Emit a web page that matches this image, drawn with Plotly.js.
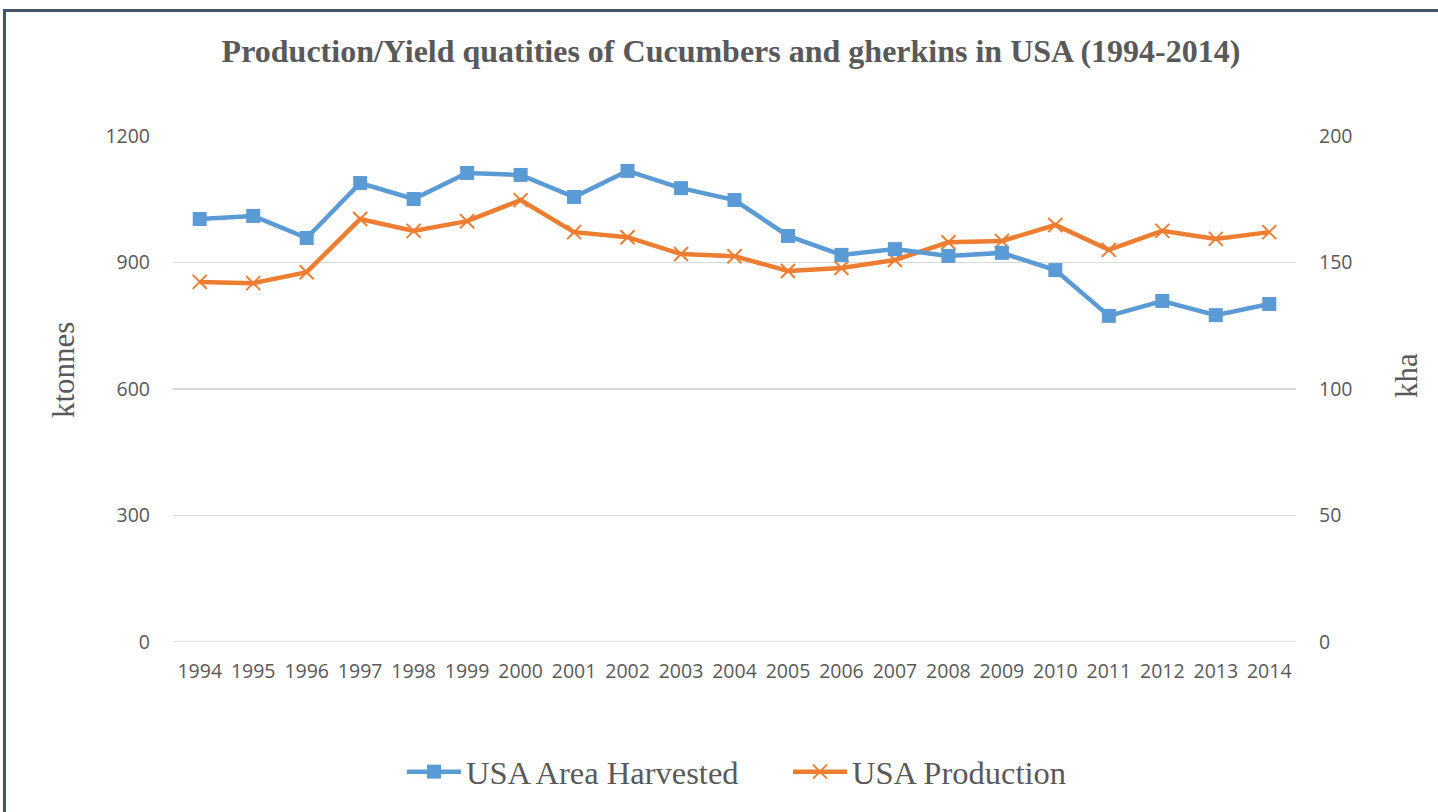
<!DOCTYPE html>
<html><head><meta charset="utf-8">
<script src="https://cdn.plot.ly/plotly-3.0.1.min.js"></script>
<style>
html,body{margin:0;padding:0;background:#fff;}
#frame{position:absolute;left:3px;top:9px;width:1435px;height:803px;border-top:3px solid #44546a;border-left:3px solid #44546a;box-sizing:border-box;pointer-events:none;z-index:10;}
#chart{position:absolute;left:0;top:0;width:1438px;height:812px;}
</style>
</head><body>
<div id="chart"></div>
<div id="frame"></div>
<script>
const years = ["1994","1995","1996","1997","1998","1999","2000","2001","2002","2003","2004","2005","2006","2007","2008","2009","2010","2011","2012","2013","2014"];
const areaHarvested = [167.2,168.4,159.7,181.4,175.1,185.4,184.6,175.9,186.2,179.4,174.7,160.5,153.0,155.3,152.6,153.8,147.0,128.9,134.8,129.2,133.6];
const production = [854,851,877,1003,975,998,1048,972,960,920,915,880,887,906,948,951,989,930,975,956,972];
const leftTicks = [0,300,600,900,1200];
const rightTicks = [0,50,100,150,200];

const tickFont = {family:"Open Sans, Calibri, sans-serif", size:19.5, color:"#595959"};
const serif = "Liberation Serif, Times New Roman, serif";
const W = 1438, H = 812, ML = 173, MR = 142, MT = 136, MB = 170;
const pw = W - ML - MR, ph = H - MT - MB;
const px = v => (v - ML) / pw;
const py = v => (H - MB - v) / ph;

const traces = [
  {x:years, y:areaHarvested, name:"USA Area Harvested", yaxis:"y2", type:"scatter", mode:"lines+markers",
   line:{color:"#5b9bd5", width:4.5}, marker:{symbol:"square", size:14, color:"#5b9bd5"}},
  {x:years, y:production, name:"USA Production", yaxis:"y", type:"scatter", mode:"lines+markers",
   line:{color:"#ed7d31", width:4.5}, marker:{symbol:"x-thin", size:14, line:{color:"#ed7d31", width:2}, color:"#ed7d31"}}
];

const layout = {
  width:W, height:H,
  margin:{l:ML, r:MR, t:MT, b:MB, autoexpand:false},
  paper_bgcolor:"#fff", plot_bgcolor:"#fff",
  title:{text:"<b>Production/Yield quatities of Cucumbers and gherkins in USA (1994-2014)</b>",
         font:{family:serif, size:32, color:"#595959"},
         x:px(731), xref:"paper", xanchor:"center", y:0.938, yanchor:"middle"},
  xaxis:{type:"category", range:[-0.5,20.5], showgrid:false, showline:false, zeroline:false,
         ticks:"", tickfont:tickFont, ticklabelstandoff:15, fixedrange:true},
  yaxis:{range:[0,1200], tickvals:leftTicks, showgrid:true, gridcolor:"#d9d9d9", gridwidth:1.5,
         zeroline:false, showline:false, ticks:"", tickfont:tickFont, ticklabelstandoff:22},
  yaxis2:{range:[0,200], tickvals:rightTicks, overlaying:"y", side:"right", showgrid:false,
          zeroline:false, showline:false, ticks:"", tickfont:tickFont, ticklabelstandoff:22},
  annotations:[
    {text:"ktonnes", xref:"paper", yref:"paper", x:px(63), y:py(370), textangle:-90, showarrow:false,
     xanchor:"center", yanchor:"middle", font:{family:serif, size:31, color:"#595959"}},
    {text:"kha", xref:"paper", yref:"paper", x:px(1406), y:py(376), textangle:-90, showarrow:false,
     xanchor:"center", yanchor:"middle", font:{family:serif, size:31, color:"#595959"}}
  ],
  shapes:[{type:"line", xref:"paper", yref:"y", x0:0, x1:1, y0:0, y1:0, line:{color:"#d9d9d9", width:1.5}}],
  legend:{orientation:"h", x:px(402), xanchor:"left", y:py(744), yanchor:"top",
          font:{family:serif, size:32.5, color:"#595959"}, itemwidth:54,
          entrywidth:317, entrywidthmode:"pixels", traceorder:"normal"},
  showlegend:true
};

Plotly.newPlot("chart", traces, layout, {displayModeBar:false, staticPlot:true});
</script>
</body></html>
